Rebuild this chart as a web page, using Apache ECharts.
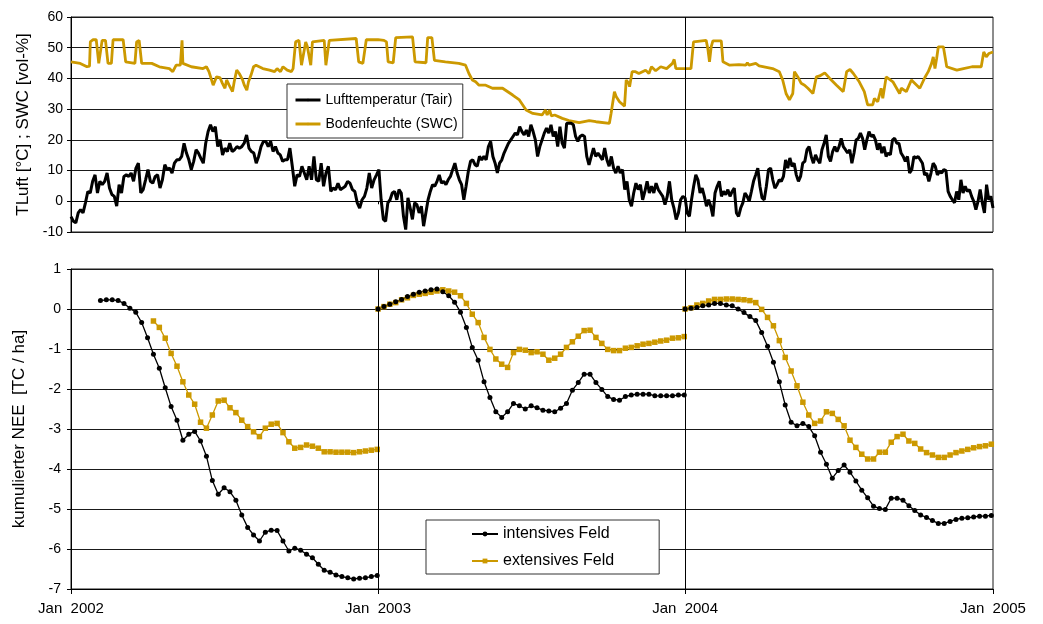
<!DOCTYPE html>
<html>
<head>
<meta charset="utf-8">
<script src="https://cdn.jsdelivr.net/npm/echarts@6/dist/echarts.min.js"></script>
<style>
  html, body { margin: 0; padding: 0; background: #fff; }
  #chart { width: 1043px; height: 624px; }
</style>
</head>
<body>
<div id="chart"></div>
<script>
// Time axis in days since 1 Jan 2002
const yearLabels = ['Jan  2002', 'Jan  2003', 'Jan  2004', 'Jan  2005'];
const yearStartDays = [0, 365, 730, 1096];

// Air temperature [°C], readings spread evenly over each year
const tair2002 = [-5, -6.5, -7, -3.8, -2.7, -3.8, -0.5, 3.2, 2.7, 6.5, 8.6, 2.7, 6.5, 5.4, 6.5, 9.2, 4.3, 2.2, 1.6, -1.6,
  5.4, 2.7, 8.1, 8.6, 8.1, 9.2, 6.5, 10.8, 12.4, 2.7, 3.8, 7, 10.3, 6.5, 5.9, 8.1, 8.6, 4.3, 7, 11.9,
  10.3, 10.8, 9.2, 12.4, 13.5, 13.5, 14.6, 18.9, 15.7, 13.5, 10.3, 13, 16.8, 15.7, 14, 12.4, 18.9, 22.7, 24.9, 22.7,
  24.3, 17.8, 20, 15.1, 17.3, 16.2, 18.9, 16.2, 16.8, 17.8, 17.3, 17.8, 18.9, 21.6, 17.3, 16.2, 15.7, 12.4, 14.6, 17.8,
  19.5, 19.5, 17.8, 19.5, 16.2, 17.8, 15.7, 15.1, 13, 13.5, 13.5, 17.3, 11.4, 4.9, 8.6, 8.1, 11.4, 9.2, 7, 11.4,
  7, 14.6, 7, 6.5, 12.4, 4.9, 9.2, 11.4, 3.2, 4.3, 3.8, 5.9, 3.8, 4.3, 4.9, 6.5, 5.9, 3.8, 3.2, -0.5,
  -2.2, 0.5, 1.6, 4.3, 9.2, 4.3, 7, 8.6, 10.3];
const tair2003 = [10.3, 0.5, -5.9, -6.5, -0.5, 0.5, 2.7, 3.2, 0.5, 3.8, 2.7, -4.9, -9.2, 1.1, -2.2, -5.9, -0.5, -1.1, -3.8, -1.6,
  -8.1, -3.8, 0.5, 3.2, 5.4, 4.9, 6.5, 8.6, 5.9, 6.5, 5.4, 7, 8.1, 10.3, 12.4, 9.2, 7, 5.4, 0.5, 4.9,
  9.7, 13, 13.5, 11.9, 11.4, 14.6, 13.5, 14.6, 13.5, 17.8, 19.5, 14.6, 12.4, 9.2, 12.4, 13.5, 15.7, 17.3, 18.9, 20,
  21.1, 22.2, 21.6, 24.3, 22.7, 21.6, 23.2, 21.1, 24.9, 22.7, 20, 14.6, 17.8, 20, 22.2, 23.8, 22.2, 24.9, 21.1, 22.7,
  17.8, 24.3, 18.9, 17.3, 25.4, 25.4, 25.4, 24.9, 21.1, 19.5, 21.1, 21.6, 21.1, 14.6, 11.9, 14.6, 17.3, 14.6, 15.7, 14.6,
  13.5, 17.3, 13.5, 11.4, 14.6, 10.8, 9.2, 11.4, 9.2, 10.3, 3.8, 6.5, 0.5, -1.6, 2.7, 5.9, 3.8, 5.4, 0.5, 3.2,
  6.5, 2.7, 4.9, 2.7, 5.9, 3.8, 2.7, 1.6, -1.1, 1.6, 6.5, 0.5, -2.2, -5.9, -3.8, 0.5, 1.6, 1.1];
const tair2004 = [0.5, -3.8, -4.9, 0.5, 4.9, 8.6, 7, 2.7, 4.3, 1.6, -1.6, 0.5, -1.6, -4.9, 2.7, 4.9, 6.5, 1.6, 3.2, 2.2,
  3.8, 1.6, 3.2, 4.3, -3.8, -4.9, -2.2, -0.5, 2.7, 1.6, 0, 3.2, 6.5, 8.6, 10.8, 4.9, 1.1, 0.5, 4.9, 10.3,
  10.8, 7, 4.3, 5.4, 7, 6.5, 8.1, 13.5, 10.8, 14.1, 11.4, 12.4, 8.6, 6.5, 8.1, 12.4, 13, 16.8, 17.8, 14.6,
  12.4, 15.1, 13.5, 12.4, 16.8, 18.9, 21.6, 14.6, 13, 16.2, 17.8, 16.2, 17.8, 20.5, 17.8, 16.8, 15.7, 16.8, 12.4, 15.7,
  20, 20.5, 22.2, 20.5, 16.8, 20, 22.7, 21.1, 21.6, 20, 16.8, 18.9, 15.7, 17.8, 14.6, 15.7, 15.1, 20, 20.5, 18.9,
  18.9, 15.7, 14.6, 13, 14.6, 9.2, 10.3, 14.6, 14.1, 14.6, 13.5, 12.4, 8.6, 9.2, 6.5, 9.2, 12.4, 11.4, 8.6, 9.7,
  9.2, 10.3, 10, 3.2, 1.6, 0.5, -0.5, 3.2, 0.5, 7, 2.7, 4.9, 3.2, 3.8, 1.6, 0, -2.7, 0, 3.8, -0.5,
  -3.8, 5.4, 0.5, 1.6, -2.2];

// Soil water content [vol-%] as [day of year, value]
const swc2002 = [[0,45.4],[11,44.9],[19,43.8],[22,44],[23,51.9],[26,52.6],[30,52.6],[33,44.9],[35,44.9],[37,52.4],
  [41,52.4],[44,44.9],[48,44.9],[50,52.6],[62,52.6],[65,45.4],[76,44.9],[78,51.9],[81,52.4],[84,44.9],
  [96,44.9],[105,43.8],[117,43.2],[121,42.2],[125,44.3],[130,44.3],[132,52.4],[133,44.9],[143,43.8],[157,43.2],
  [161,43.8],[164,42.2],[169,37.8],[173,40.5],[177,40.3],[180,38.4],[183,36.8],[185,39.5],[188,37.8],[192,35.7],
  [194,38.9],[197,42.7],[200,41.6],[204,39.5],[206,37.8],[209,36.2],[211,38.9],[214,41.1],[217,43.8],[220,44.3],
  [228,43.2],[236,42.7],[242,42.2],[245,43.2],[249,42.2],[252,43.8],[257,42.7],[262,42.2],[264,43.2],[267,51.9],
  [271,52.4],[274,44.3],[276,44.3],[279,51.9],[281,50.3],[285,44.3],[287,51.9],[301,52.4],[303,44.3],[305,44.3],
  [307,52.4],[339,53],[342,45.4],[347,44.9],[351,52.6],[365,52.6]];
const swc2003 = [[0,52.6],[7,52.4],[10,51.9],[12,45.4],[18,45.1],[21,53.3],[41,53.5],[44,45.4],[57,45.1],[59,53.3],
  [64,53.3],[67,45.9],[80,45.4],[96,44.9],[104,44.3],[108,41.6],[112,39.5],[116,38.9],[120,37.8],[128,37.8],
  [136,36.8],[148,36.8],[160,34.6],[168,33],[176,29.7],[184,28.6],[195,28.1],[199,29.7],[201,28.1],[204,29.7],
  [206,27.8],[210,28.1],[219,27],[227,26.3],[239,25.6],[251,26.3],[259,25.9],[275,25.4],[277,28.6],[281,35.7],
  [283,34.1],[287,32.4],[293,31],[295,39.5],[298,38.4],[299,37.3],[302,42.2],[306,42.2],[310,41.6],[318,42.7],
  [322,41.6],[325,43.8],[330,42.5],[336,43.8],[343,43.2],[350,44.9],[352,46.2],[354,43.2],[365,43.2]];
const swc2004 = [[0,43.2],[7,43.2],[10,51.9],[25,52.4],[27,49.7],[29,45.4],[31,50.3],[33,52.2],[43,52.2],[45,45.4],
  [53,44.3],[64,44.5],[72,44.3],[74,45.1],[76,44.3],[84,44.9],[88,44.1],[104,43.2],[112,42.2],[116,39.5],
  [120,35.1],[124,33],[128,35.1],[130,42.2],[134,40.5],[138,38.4],[142,37.8],[146,36.8],[152,35.1],[156,40.5],
  [160,40.8],[166,41.8],[172,40],[180,37.8],[188,35.7],[192,42.2],[196,42.9],[200,41.6],[207,38.9],[213,35.7],
  [217,31.4],[223,31.4],[225,33.5],[229,32.4],[233,36.8],[235,33.5],[239,40.5],[247,38.9],[255,35.1],[257,36.8],
  [263,35.7],[269,39.5],[279,36.8],[285,40.3],[289,42.2],[293,44.9],[295,47],[297,43.2],[299,46.5],[301,50.3],
  [307,50.3],[311,43.8],[323,42.7],[331,43.2],[341,43.8],[352,43.8],[355,48.6],[358,47],[361,48.1],[366,48.6]];

// Cumulative NEE [t C / ha], weekly values
const neeIntensiv2002 = [0.21, 0.23, 0.23, 0.21, 0.14, 0.02, -0.08, -0.34, -0.72, -1.13, -1.48, -1.97, -2.44, -2.78, -3.28, -3.13,
  -3.06, -3.3, -3.68, -4.29, -4.63, -4.47, -4.57, -4.78, -5.15, -5.46, -5.65, -5.8, -5.58, -5.53, -5.54, -5.8,
  -6.05, -5.98, -6.03, -6.13, -6.22, -6.38, -6.53, -6.58, -6.65, -6.69, -6.72, -6.75, -6.73, -6.72, -6.69, -6.66];
const neeExtensiv2002 = [-0.3, -0.46, -0.73, -1.11, -1.43, -1.82, -2.15, -2.38, -2.83, -2.98, -2.65, -2.3, -2.28, -2.47, -2.59, -2.78,
  -2.94, -3.07, -3.19, -2.98, -2.88, -2.86, -3.09, -3.32, -3.48, -3.46, -3.4, -3.43, -3.48, -3.57, -3.57, -3.58,
  -3.58, -3.58, -3.59, -3.57, -3.55, -3.53, -3.51];
const neeIntensiv2003 = [0, 0.06, 0.12, 0.18, 0.24, 0.31, 0.37, 0.42, 0.45, 0.48, 0.5, 0.43, 0.33, 0.17, -0.08, -0.46,
  -0.96, -1.28, -1.82, -2.21, -2.57, -2.71, -2.57, -2.36, -2.42, -2.5, -2.42, -2.47, -2.53, -2.55, -2.57, -2.48,
  -2.36, -2.03, -1.84, -1.63, -1.63, -1.84, -2.01, -2.19, -2.26, -2.28, -2.19, -2.15, -2.13, -2.13, -2.13, -2.17,
  -2.17, -2.17, -2.17, -2.15, -2.15];
const neeExtensiv2003 = [0, 0.06, 0.12, 0.16, 0.23, 0.28, 0.34, 0.37, 0.39, 0.42, 0.45, 0.48, 0.45, 0.42, 0.33, 0.14,
  -0.13, -0.34, -0.71, -1.01, -1.25, -1.38, -1.46, -1.09, -1.01, -1.03, -1.09, -1.07, -1.13, -1.28, -1.23, -1.13,
  -0.96, -0.82, -0.68, -0.54, -0.53, -0.71, -0.86, -1.01, -1.04, -1.04, -0.98, -0.96, -0.92, -0.88, -0.86, -0.83,
  -0.8, -0.78, -0.73, -0.72, -0.69];
const neeIntensiv2004 = [0, 0.02, 0.04, 0.08, 0.1, 0.14, 0.14, 0.1, 0.08, 0, -0.09, -0.19, -0.29, -0.59, -0.93, -1.33,
  -1.82, -2.4, -2.83, -2.92, -2.86, -2.94, -3.17, -3.58, -3.88, -4.23, -4.04, -3.9, -4.08, -4.3, -4.53, -4.72,
  -4.93, -4.99, -5.01, -4.73, -4.73, -4.78, -4.92, -5.04, -5.15, -5.21, -5.29, -5.36, -5.36, -5.31, -5.26, -5.23,
  -5.22, -5.2, -5.18, -5.18, -5.16];
const neeExtensiv2004 = [0, 0.03, 0.1, 0.14, 0.2, 0.24, 0.24, 0.25, 0.25, 0.24, 0.23, 0.21, 0.16, -0.01, -0.21, -0.42,
  -0.79, -1.21, -1.55, -1.92, -2.33, -2.65, -2.86, -2.8, -2.57, -2.61, -2.76, -2.92, -3.28, -3.46, -3.63, -3.75,
  -3.75, -3.58, -3.58, -3.33, -3.19, -3.13, -3.3, -3.36, -3.5, -3.59, -3.65, -3.71, -3.71, -3.65, -3.59, -3.55,
  -3.51, -3.47, -3.44, -3.42, -3.38];

// First measuring day of each weekly NEE record (days since 1 Jan 2002)
const firstDayIntensiv2002 = 35;
const firstDayExtensiv2002 = 98;

const FONT = 'Liberation Sans, Arial, sans-serif';
const GOLD = '#CC9900';
const INK = '#000';
const GRID_LINE = '#1a1a1a';

function spreadOverYear(values, fromDay, toDay) {
  const step = (toDay - fromDay) / (values.length - 1);
  return values.map((v, i) => [fromDay + i * step, v]);
}
function shiftDays(pairs, offset) {
  return pairs.map(p => [p[0] + offset, p[1]]);
}
function weekly(values, firstDay) {
  return values.map((v, i) => [firstDay + 7 * i, v]);
}

const tairData = []
  .concat(spreadOverYear(tair2002, 0, 366))
  .concat(spreadOverYear(tair2003, 366, 730).slice(1))
  .concat(spreadOverYear(tair2004, 730, 1096));
const swcData = []
  .concat(shiftDays(swc2002, 0))
  .concat(shiftDays(swc2003, 365).slice(1))
  .concat(shiftDays(swc2004, 730).slice(1));

function yearLabel(v) {
  const i = yearStartDays.indexOf(Math.round(v));
  return i >= 0 ? yearLabels[i] : '';
}

const chart = echarts.init(document.getElementById('chart'), null, { renderer: 'canvas' });

const neeLine = (name, color, symbol, data, extra) => Object.assign({
  name, type: 'line', xAxisIndex: 1, yAxisIndex: 1, data,
  symbol, symbolSize: symbol === 'rect' ? 5.5 : 5, showSymbol: true,
  lineStyle: { color, width: 1.3 }, itemStyle: { color },
  emphasis: { disabled: true }
}, extra || {});

const yearSeparator = (days) => ({
  silent: true, symbol: ['none', 'none'], label: { show: false },
  lineStyle: { color: INK, width: 1, type: 'solid' },
  data: days.map(d => ({ xAxis: d }))
});

chart.setOption({
  animation: false,
  backgroundColor: '#fff',
  textStyle: { fontFamily: FONT },
  grid: [
    { left: 71, right: 50, top: 17, height: 215, show: true, borderColor: GRID_LINE, borderWidth: 1 },
    { left: 71, right: 50, top: 269, height: 320, show: true, borderColor: GRID_LINE, borderWidth: 1 }
  ],
  xAxis: [
    {
      gridIndex: 0, type: 'value', min: 0, max: 1096,
      axisLine: { show: true, onZero: true, lineStyle: { color: INK, width: 1 } },
      axisTick: { show: true, customValues: [365], length: 3, lineStyle: { color: INK } },
      axisLabel: { show: false },
      splitLine: { show: false }
    },
    {
      gridIndex: 1, type: 'value', min: 0, max: 1096,
      axisLine: { show: true, onZero: false, lineStyle: { color: INK, width: 1 } },
      axisTick: { show: true, customValues: yearStartDays, length: 5, lineStyle: { color: INK } },
      axisLabel: {
        show: true, customValues: yearStartDays, formatter: yearLabel,
        color: INK, fontSize: 15, fontFamily: FONT, margin: 12
      },
      splitLine: { show: false }
    }
  ],
  yAxis: [
    {
      gridIndex: 0, type: 'value', min: -10, max: 60, interval: 10,
      name: 'TLuft [°C] ; SWC [vol-%]', nameLocation: 'middle', nameGap: 37,
      nameTextStyle: { fontSize: 17, color: INK, fontFamily: FONT },
      axisLine: { show: true, lineStyle: { color: INK } },
      axisTick: { show: true, length: 4, lineStyle: { color: INK } },
      axisLabel: { color: INK, fontSize: 14, fontFamily: FONT, margin: 8 },
      splitLine: { show: true, lineStyle: { color: GRID_LINE, width: 1 } }
    },
    {
      gridIndex: 1, type: 'value', min: -7, max: 1, interval: 1,
      name: 'kumulierter NEE  [TC / ha]', nameLocation: 'middle', nameGap: 43,
      nameTextStyle: { fontSize: 17, color: INK, fontFamily: FONT },
      axisLine: { show: true, lineStyle: { color: INK } },
      axisTick: { show: true, length: 4, lineStyle: { color: INK } },
      axisLabel: { color: INK, fontSize: 14, fontFamily: FONT, margin: 10 },
      splitLine: { show: true, lineStyle: { color: GRID_LINE, width: 1 } }
    }
  ],
  legend: [
    {
      data: ['Lufttemperatur (Tair)', 'Bodenfeuchte (SWC)'],
      orient: 'vertical', left: 287, top: 84,
      padding: [9, 5, 7, 7], itemGap: 10, itemWidth: 25, itemHeight: 3,
      backgroundColor: '#fff', borderColor: '#333', borderWidth: 1, borderRadius: 0,
      selectedMode: false,
      lineStyle: { width: 3 },
      textStyle: { fontSize: 14, color: INK, fontFamily: FONT }
    },
    {
      data: ['intensives Feld', 'extensives Feld'],
      orient: 'vertical', left: 426, top: 520,
      padding: [6, 45, 5, 45], itemGap: 11, itemWidth: 26, itemHeight: 6,
      backgroundColor: '#fff', borderColor: '#333', borderWidth: 1, borderRadius: 0,
      selectedMode: false,
      textStyle: { fontSize: 16, color: INK, fontFamily: FONT }
    }
  ],
  series: [
    {
      name: 'Lufttemperatur (Tair)', type: 'line', xAxisIndex: 0, yAxisIndex: 0,
      data: tairData, symbol: 'none', z: 3,
      lineStyle: { color: INK, width: 3 }, itemStyle: { color: INK },
      emphasis: { disabled: true },
      markLine: yearSeparator([730])
    },
    {
      name: 'Bodenfeuchte (SWC)', type: 'line', xAxisIndex: 0, yAxisIndex: 0,
      data: swcData, symbol: 'none', z: 2,
      lineStyle: { color: GOLD, width: 2.8 }, itemStyle: { color: GOLD },
      emphasis: { disabled: true }
    },
    neeLine('extensives Feld', GOLD, 'rect', weekly(neeExtensiv2002, firstDayExtensiv2002)),
    neeLine('extensives Feld', GOLD, 'rect', weekly(neeExtensiv2003, 365)),
    neeLine('extensives Feld', GOLD, 'rect', weekly(neeExtensiv2004, 730)),
    neeLine('intensives Feld', INK, 'circle', weekly(neeIntensiv2002, firstDayIntensiv2002), { markLine: yearSeparator([365, 730]) }),
    neeLine('intensives Feld', INK, 'circle', weekly(neeIntensiv2003, 365)),
    neeLine('intensives Feld', INK, 'circle', weekly(neeIntensiv2004, 730))
  ]
});
</script>
</body>
</html>
